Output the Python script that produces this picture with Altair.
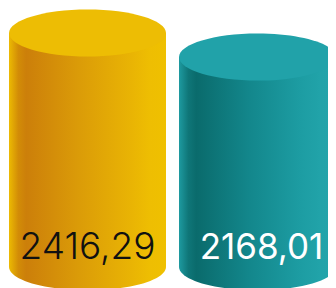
import altair as alt
import pandas as pd

categories = ["Serie 1", "Serie 2"]
values = [2416.29, 2168.01]
labels = ["2416,29", "2168,01"]
text_colors = ["#111111", "#ffffff"]
text_weights = [300, 400]
text_sizes = [37, 35]
top_colors = ["#EDBD04", "#21A2A9"]

body_stops = [
    [(0.0, "#ECBA02"), (0.06, "#D28C07"), (0.11, "#CC7F0A"), (0.45, "#DB9C08"), (0.78, "#E9B404"), (0.9, "#EEBE02"), (1.0, "#EFC000")],
    [(0.0, "#1E9AA0"), (0.06, "#0F7678"), (0.11, "#0A6B6C"), (0.45, "#13878C"), (0.78, "#1D9DA3"), (0.9, "#21A3A9"), (1.0, "#22A4AA")],
]

df = pd.DataFrame({"cat": categories, "value": values, "label": labels, "tcolor": text_colors})

ELLIPSE = ("M -1 0 C -1 -0.1657 -0.5523 -0.3 0 -0.3 C 0.5523 -0.3 1 -0.1657 1 0 "
           "C 1 0.1657 0.5523 0.3 0 0.3 C -0.5523 0.3 -1 0.1657 -1 0 Z")

xs = alt.Scale(domain=categories, paddingInner=0.0765, paddingOuter=0.0059, range=[0, 329])
ys = alt.Scale(domain=[-221, 2675], nice=False, zero=False)
X = alt.X("cat:N", scale=xs, axis=None)

layers = []
for i, cat in enumerate(categories):
    grad = alt.LinearGradient(
        gradient="linear", x1=0, x2=1, y1=0, y2=0,
        stops=[alt.GradientStop(offset=o, color=c) for o, c in body_stops[i]],
    )
    base = alt.Chart(df).transform_filter(alt.datum.cat == cat)
    bottom = base.mark_point(shape=ELLIPSE, size=24649, filled=True, opacity=1, strokeWidth=0, color=grad).encode(
        x=X, y=alt.datum(0, scale=ys, axis=None)
    )
    body = base.mark_bar(color=grad).encode(
        x=X, y=alt.Y("value:Q", scale=ys, axis=None), y2=alt.datum(0)
    )
    top = base.mark_point(shape=ELLIPSE, size=24649, filled=True, opacity=1, strokeWidth=0, color=top_colors[i]).encode(
        x=X, y=alt.Y("value:Q", scale=ys, axis=None)
    )
    layers += [bottom, body, top]

for i, cat in enumerate(categories):
    text = alt.Chart(df).transform_filter(alt.datum.cat == cat).mark_text(
        fontSize=text_sizes[i], font="Inter", fontWeight=text_weights[i], baseline="alphabetic",
        dy=-8, dx=(0 if i == 0 else 4), color=text_colors[i]
    ).encode(
        x=X, y=alt.datum(0, scale=ys, axis=None), text="label:N"
    )
    layers.append(text)

chart = alt.layer(*layers).properties(
    width=320, height=280, padding=0, autosize=alt.AutoSizeParams(type="none")
).configure_view(stroke=None)

chart.save("out.html", embed_options={"renderer": "svg", "actions": False})
